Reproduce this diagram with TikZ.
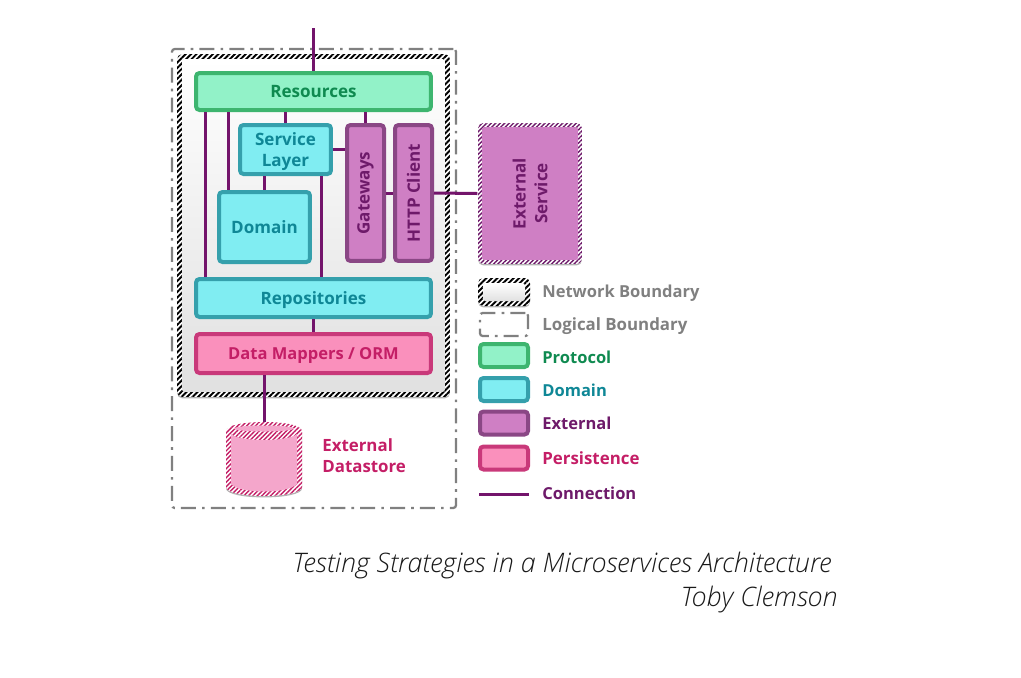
\documentclass[tikz,border=0pt]{standalone}
\usepackage{fontspec}
\usepackage{xcolor}
\usepackage{tikz}
\usetikzlibrary{patterns.meta, shadows}
\setmainfont{Open Sans}
\newfontfamily\capfont[ItalicFont={Open Sans Light Italic}]{Open Sans Light}

\definecolor{protofill}{HTML}{92F2C8}
\definecolor{protoline}{HTML}{3DB56F}
\definecolor{prototext}{HTML}{0F8A50}
\definecolor{domfill}{HTML}{80EDF2}
\definecolor{domline}{HTML}{35A0AC}
\definecolor{domtext}{HTML}{0F8796}
\definecolor{extfill}{HTML}{CF7FC4}
\definecolor{extline}{HTML}{8A4785}
\definecolor{exttext}{HTML}{6E1A6A}
\definecolor{perfill}{HTML}{FA90BC}
\definecolor{perline}{HTML}{C9397A}
\definecolor{pertext}{HTML}{C41E66}
\definecolor{storefill}{HTML}{F4A6CB}
\definecolor{connline}{HTML}{73146B}
\definecolor{greytext}{HTML}{808080}

\tikzset{
    softshadow/.style={drop shadow={fill=black!30, opacity=1, shadow xshift=0pt, shadow yshift=-0.8pt}},
    whiteunder/.style={softshadow, preaction={fill=white}},
    box/.style={draw, rounded corners=2pt, line width=0.08cm, inner sep=0pt, text depth=0pt, font=\bfseries\fontsize{9.7}{12.4}\selectfont, align=center, softshadow},
    protocolbox/.style={box, fill=protofill, draw=protoline, text=prototext},
    domainbox/.style={box, fill=domfill, draw=domline, text=domtext},
    externalbox/.style={box, fill=extfill, draw=extline, text=exttext},
    persistbox/.style={box, fill=perfill, draw=perline, text=pertext},
    hatchnet/.style={rounded corners=3pt, inner sep=0pt, whiteunder, pattern={Lines[angle=45, distance=2.2pt, line width=1.1pt]}, pattern color=black},
    hatchext/.style={rounded corners=3pt, inner sep=0pt, whiteunder, pattern={Lines[angle=45, distance=1.8pt, line width=0.8pt]}, pattern color=exttext},
    hatchstore/.style={whiteunder, pattern={Lines[angle=45, distance=1.8pt, line width=0.8pt]}, pattern color=pertext},
    netinside/.style={rounded corners=1.5pt, inner sep=0pt, top color=white, bottom color=black!12},
    logical/.style={draw=greytext, rounded corners=1.5pt, line width=0.045cm, inner sep=0pt, dash pattern=on 8.5pt off 3.5pt on 1.5pt off 3.5pt},
    conn/.style={draw=connline, line width=0.06cm},
    legendtext/.style={anchor=west, inner sep=0pt, font=\bfseries\fontsize{9.4}{12}\selectfont},
    caption/.style={anchor=east, inner sep=0pt, font=\capfont\itshape\fontsize{15.3}{18}\selectfont, text=black!90}
}

\begin{document}
\begin{tikzpicture}[x=0.02cm, y=-0.02cm]
    \useasboundingbox (0, 0) rectangle (1021, 677);

    \node[logical, minimum width=5.68cm, minimum height=9.18cm] at (314, 278.5) (logicalb) {};

    \node[hatchnet, minimum width=5.46cm, minimum height=6.86cm] at (313.5, 225.5) (netb) {};
    \node[netinside, minimum width=5.26cm, minimum height=6.66cm] at (313.5, 225.5) (netin) {};

    \node[protocolbox, minimum width=4.70cm, minimum height=0.74cm] at (313.5, 91.5) (resources) {Resources};
    \node[domainbox, minimum width=1.82cm, minimum height=0.98cm] at (285.5, 149.5) (service) {Service\\Layer};
    \node[domainbox, minimum width=1.82cm, minimum height=1.40cm] at (264.5, 227) (domain) {Domain};
    \node[externalbox, minimum width=0.74cm, minimum height=2.72cm] at (365.5, 193) (gateways) {\rotatebox{90}{Gateways}};
    \node[externalbox, minimum width=0.74cm, minimum height=2.72cm] at (413.5, 193) (http) {\rotatebox{90}{HTTP Client}};
    \node[domainbox, minimum width=4.70cm, minimum height=0.76cm] at (313.5, 298) (repos) {Repositories};
    \node[persistbox, minimum width=4.70cm, minimum height=0.78cm, font=\bfseries\fontsize{9.4}{12}\selectfont] at (313.5, 353.5) (mappers) {Data Mappers / ORM};

    \node[hatchext, minimum width=2.08cm, minimum height=2.82cm] at (530, 193.5) (extsvc) {};
    \node[fill=extfill, rounded corners=1pt, inner sep=0pt, minimum width=1.92cm, minimum height=2.66cm, text=exttext, font=\bfseries\fontsize{9.7}{12.4}\selectfont] at (530, 193.5) (extin) {\rotatebox{90}{\parbox{2cm}{\centering External\\Service}}};

    \path[hatchstore] (226, 431) .. controls (226, 419) and (302, 419) .. (302, 431) -- (302, 487) .. controls (302, 499) and (226, 499) .. (226, 487) -- cycle;
    \fill[storefill] (231, 434) .. controls (240, 442) and (288, 442) .. (297, 434) -- (297, 484) .. controls (288, 494) and (240, 494) .. (231, 484) -- cycle;
    \fill[storefill] (264, 428.5) ellipse [x radius=30, y radius=3];
    \coordinate (store) at (264, 422);
    \node[anchor=west, inner sep=0pt, align=left, text=pertext, font=\bfseries\fontsize{9.6}{12}\selectfont] at (322, 456) (storelabel) {External\\Datastore};

    \coordinate (entry) at (313, 28);
    \coordinate (railone) at (205, 200);
    \coordinate (railtwo) at (228, 200);
    \coordinate (railthree) at (321, 200);

    \draw[conn] (entry) -- (resources.north -| entry);
    \draw[conn] (resources.south -| railone) -- (repos.north -| railone);
    \draw[conn] (resources.south -| railtwo) -- (domain.north -| railtwo);
    \draw[conn] (resources.south -| service.north) -- (service.north);
    \draw[conn] (resources.south -| gateways.north) -- (gateways.north);
    \draw[conn] (service.east) -- (service.east -| gateways.west);
    \draw[conn] (service.south -| domain.north) -- (domain.north);
    \draw[conn] (service.south -| railthree) -- (repos.north -| railthree);
    \draw[conn] (gateways.east) -- (http.west);
    \draw[conn] (http.east) -- (extsvc.west);
    \draw[conn] (repos.south -| mappers.north) -- (mappers.north);
    \draw[conn] (mappers.south -| store) -- (store);

    \node[hatchnet, minimum width=1.04cm, minimum height=0.56cm] at (504, 292) (lgnet) {};
    \node[netinside, minimum width=0.84cm, minimum height=0.36cm] at (504, 292) (lgnetin) {};
    \node[logical, minimum width=0.96cm, minimum height=0.46cm] at (504, 324.5) (lglogical) {};
    \node[protocolbox, minimum width=0.96cm, minimum height=0.46cm] at (504, 355.5) (lgproto) {};
    \node[domainbox, minimum width=0.96cm, minimum height=0.46cm] at (504, 389.5) (lgdomain) {};
    \node[externalbox, minimum width=0.96cm, minimum height=0.46cm] at (504, 423) (lgext) {};
    \node[persistbox, minimum width=0.96cm, minimum height=0.46cm] at (504, 458) (lgper) {};
    \coordinate (lgconna) at (479, 494);
    \coordinate (lgconnb) at (529, 494);
    \draw[conn] (lgconna) -- (lgconnb);

    \node[legendtext, text=greytext] at (542, 293) (txnet) {Network Boundary};
    \node[legendtext, text=greytext, font=\bfseries\fontsize{9.6}{12}\selectfont] at (542, 326) (txlogical) {Logical Boundary};
    \node[legendtext, text=prototext] at (542, 357) (txproto) {Protocol};
    \node[legendtext, text=domtext] at (542, 390) (txdomain) {Domain};
    \node[legendtext, text=exttext] at (542, 423) (txext) {External};
    \node[legendtext, text=pertext, font=\bfseries\fontsize{9.6}{12}\selectfont] at (542, 458) (txper) {Persistence};
    \node[legendtext, text=exttext] at (542, 493) (txconn) {Connection};

    \node[caption] at (832, 566) (title) {Testing Strategies in a Microservices Architecture};
    \node[caption] at (838, 600) (byline) {Toby Clemson};
\end{tikzpicture}
\end{document}
